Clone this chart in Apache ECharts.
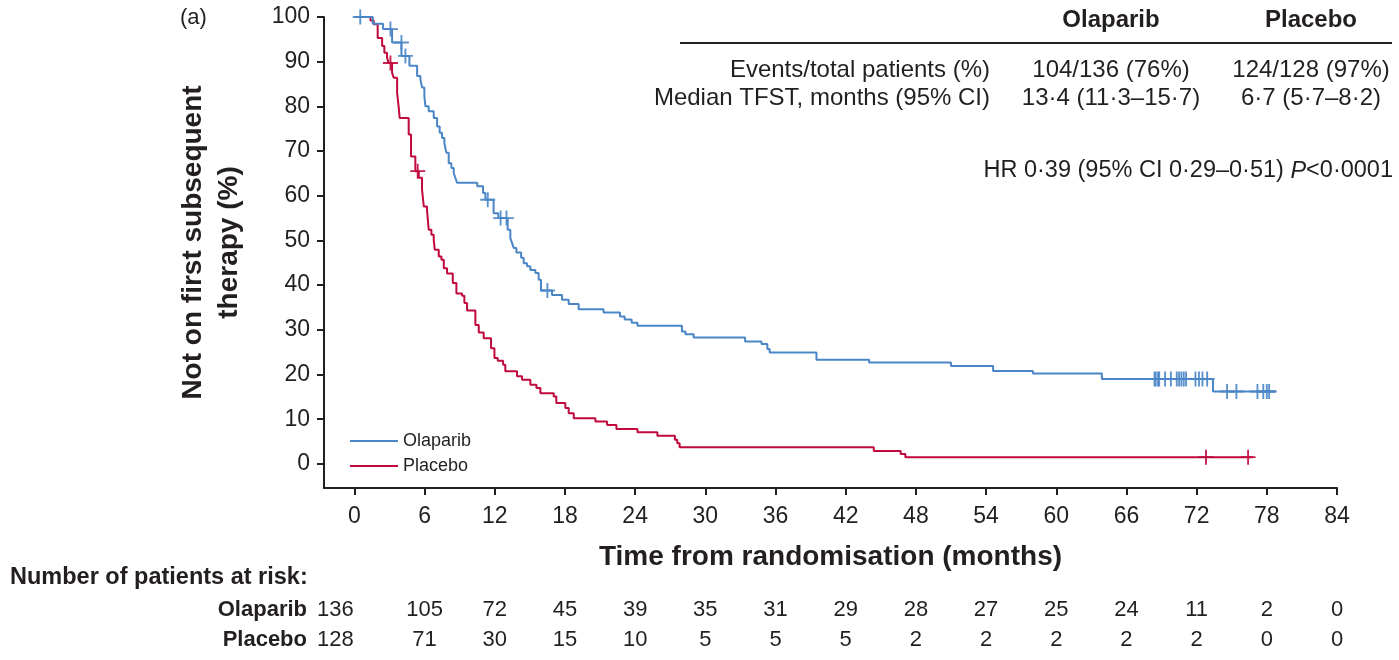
<!DOCTYPE html>
<html>
<head>
<meta charset="utf-8">
<title>Time to first subsequent therapy</title>
<script src="https://cdn.jsdelivr.net/npm/echarts@6/dist/echarts.min.js"></script>
<style>
  html, body { margin: 0; padding: 0; background: #ffffff; }
  #chart { width: 1399px; height: 660px; }
</style>
</head>
<body>
<div id="chart"></div>
<script>
// Kaplan–Meier estimates: [month, % not on first subsequent therapy] at each event
const olaparibCurve = [
  [0, 100], [1.57, 98.5], [2.45, 97.3], [3.22, 94.3], [4.02, 91.3], [4.70, 89.1],
  [5.36, 86.8], [5.64, 86.1], [5.78, 84.2], [5.98, 82.3], [6.07, 80.0], [6.35, 78.9],
  [6.78, 77.4], [7.07, 75.5], [7.29, 74.1], [7.49, 72.9], [7.69, 71.8], [7.86, 69.6],
  [8.06, 67.3], [8.29, 66.2], [8.49, 65.1], [8.63, 64.0], [8.78, 62.9], [10.5, 62.1],
  [11.0, 60.6], [11.2, 59.1], [11.9, 56.1], [12.3, 55.0], [13.1, 52.4], [13.33, 50.5],
  [13.48, 49.4], [13.62, 48.3], [13.85, 47.3], [14.25, 46.1], [14.47, 44.9], [14.76, 44.2],
  [15.04, 43.4], [15.47, 42.7], [15.75, 41.2], [15.95, 38.8], [16.89, 37.8], [17.75, 36.7],
  [18.32, 35.8], [19.17, 34.6], [21.3, 33.9], [22.7, 33.0], [23.1, 32.3], [23.7, 31.6],
  [24.2, 30.9], [28.0, 29.6], [28.3, 29.0], [29.0, 28.3], [33.4, 27.4], [34.8, 26.8],
  [35.3, 25.7], [35.5, 24.9], [39.5, 23.3], [44.0, 22.7], [51.0, 21.9], [54.6, 20.8],
  [58.0, 20.2], [63.9, 19.0], [73.4, 16.2], [78.8, 16.2]
];
const placeboCurve = [
  [0, 100], [1.37, 99.2], [1.65, 98.4], [1.99, 95.3], [2.37, 93.5], [2.56, 92.0],
  [2.79, 90.9], [2.93, 89.7], [3.22, 87.5], [3.36, 86.4], [3.65, 83.0], [3.79, 79.7],
  [3.87, 77.4], [4.64, 73.7], [4.84, 68.8], [5.21, 65.5], [5.5, 64.0], [5.78, 61.4],
  [5.93, 57.6], [6.21, 56.7], [6.35, 52.4], [6.58, 51.3], [6.78, 50.2], [6.87, 47.9],
  [7.21, 46.4], [7.44, 45.7], [7.64, 43.8], [7.92, 42.6], [8.41, 40.5], [8.72, 38.1],
  [9.2, 37.6], [9.4, 36.0], [9.63, 34.3], [10.34, 31.1], [10.63, 29.4], [11.05, 28.1],
  [11.68, 25.9], [11.97, 23.7], [12.25, 23.1], [12.71, 22.2], [12.9, 20.7], [13.9, 19.6],
  [14.33, 18.8], [15.04, 17.7], [15.56, 17.0], [15.9, 15.8], [17.04, 15.1], [17.26, 13.6],
  [18.03, 12.5], [18.32, 11.3], [18.75, 10.2], [20.6, 9.5], [21.6, 8.7], [22.4, 7.8],
  [24.2, 7.1], [25.9, 6.3], [27.4, 5.4], [27.6, 4.6], [27.8, 3.7], [44.4, 2.9],
  [46.7, 2.2], [47.1, 1.5], [76.8, 1.5]
];

// Censored observations
const olaparibCensored = [
  [0.5, 100], [3.08, 97.3], [4.02, 94.3], [4.36, 91.3], [11.4, 59.1], [12.5, 55.0],
  [13.0, 55.0], [16.5, 38.8],
  [68.4, 19.0], [68.5, 19.0], [68.7, 19.0], [68.8, 19.0], [69.3, 19.0], [69.8, 19.0],
  [70.3, 19.0], [70.5, 19.0], [70.7, 19.0], [70.9, 19.0], [71.1, 19.0], [71.9, 19.0],
  [72.2, 19.0], [72.5, 19.0], [72.9, 19.0],
  [74.6, 16.2], [75.4, 16.2], [77.2, 16.2], [77.7, 16.2], [78.0, 16.2], [78.2, 16.2]
];
const placeboCensored = [[3.08, 89.7], [5.41, 65.5], [72.8, 1.5], [76.4, 1.5]];

// Axis ticks
const monthTicks = [0, 6, 12, 18, 24, 30, 36, 42, 48, 54, 60, 66, 72, 78, 84];
const percentTicks = [0, 10, 20, 30, 40, 50, 60, 70, 80, 90, 100];

// Number of patients at risk at each month tick
const riskArms = ['Placebo', 'Olaparib'];
const olaparibAtRisk = [136, 105, 72, 45, 39, 35, 31, 29, 28, 27, 25, 24, 11, 2, 0];
const placeboAtRisk = [128, 71, 30, 15, 10, 5, 5, 5, 2, 2, 2, 2, 2, 0, 0];

// Summary table
const summaryHeaders = ['Olaparib', 'Placebo'];
const summaryRows = [
  ['Events/total patients (%)', '104/136 (76%)', '124/128 (97%)'],
  ['Median TFST, months (95% CI)', '13·4 (11·3–15·7)', '6·7 (5·7–8·2)']
];
const hazardText = ['HR 0·39 (95% CI 0·29–0·51) ', 'P', '<0·0001'];

const BLUE = '#4a86c6';
const RED = '#c0093d';
const INK = '#231f20';
const FONT = '"Liberation Sans", Arial, Helvetica, sans-serif';
const PLUS = 'path://M7,0h2v7h7v2h-7v7h-2v-7h-7v-2h7z';
const LEGEND_LINE = 'path://M0,0h48v2h-48z';

const X_MIN = -2.6, X_MAX = 84;
const Y_MIN = -5.4, Y_MAX = 100;

const chart = echarts.init(document.getElementById('chart'));

const colCenters = [1111, 1311];
const summaryGraphics = [];
summaryHeaders.forEach((h, i) => {
  summaryGraphics.push({
    type: 'text', x: colCenters[i], y: 20,
    style: { text: h, font: 'bold 24px ' + FONT, fill: INK, align: 'center', verticalAlign: 'middle' }
  });
});
summaryGraphics.push({
  type: 'line', shape: { x1: 680, y1: 43, x2: 1392, y2: 43 },
  style: { stroke: INK, lineWidth: 2 }
});
summaryRows.forEach((row, r) => {
  const y = 70 + r * 28;
  summaryGraphics.push({
    type: 'text', x: 990, y: y,
    style: { text: row[0], font: '24px ' + FONT, fill: INK, align: 'right', verticalAlign: 'middle' }
  });
  for (let c = 0; c < 2; c++) {
    summaryGraphics.push({
      type: 'text', x: colCenters[c], y: y,
      style: { text: row[c + 1], font: '24px ' + FONT, fill: INK, align: 'center', verticalAlign: 'middle' }
    });
  }
});
summaryGraphics.push({
  type: 'text', x: 1393, y: 171,
  style: {
    text: '{n|' + hazardText[0] + '}{i|' + hazardText[1] + '}{n|' + hazardText[2] + '}',
    align: 'right', verticalAlign: 'middle',
    rich: {
      n: { font: '23.5px ' + FONT, fill: INK },
      i: { font: 'italic 23.5px ' + FONT, fill: INK }
    }
  }
});

// At-risk counts sit in their own grid, on the same time scale as the curves;
// the baseline column is nudged left toward the row names.
function riskData(arm, counts) {
  return monthTicks.map((t, i) => ({
    value: [t, arm, counts[i]],
    label: i === 0 ? { offset: [-19, 0] } : undefined
  }));
}
const riskLabel = {
  show: true, position: 'inside', color: INK, opacity: 1, fontSize: 22, fontFamily: FONT,
  textBorderWidth: 0, formatter: p => String(p.value[2])
};

chart.setOption({
  animation: false,
  backgroundColor: '#ffffff',
  textStyle: { fontFamily: FONT, color: INK },
  grid: [
    { left: 324, right: 62, top: 17, bottom: 172 },
    { left: 324, right: 62, top: 595, height: 60 }
  ],
  legend: {
    data: [
      { name: 'Olaparib', icon: LEGEND_LINE },
      { name: 'Placebo', icon: LEGEND_LINE }
    ],
    orient: 'vertical', left: 345, top: 427,
    itemWidth: 48, itemHeight: 18, itemGap: 7, symbolKeepAspect: true,
    textStyle: { fontSize: 18, color: INK, fontFamily: FONT },
    selectedMode: false
  },
  xAxis: [
    {
      type: 'value', gridIndex: 0, min: X_MIN, max: X_MAX,
      axisLine: { onZero: false, lineStyle: { color: INK, width: 2 } },
      axisTick: { show: true, customValues: monthTicks, length: 7, lineStyle: { color: INK, width: 2 } },
      axisLabel: { customValues: monthTicks, fontSize: 23, color: INK, margin: 17, fontFamily: FONT },
      splitLine: { show: false },
      name: 'Time from randomisation (months)', nameLocation: 'middle', nameGap: 55,
      nameTextStyle: { fontSize: 28, fontWeight: 'bold', color: INK, fontFamily: FONT }
    },
    {
      type: 'value', gridIndex: 1, min: X_MIN, max: X_MAX, show: false
    }
  ],
  yAxis: [
    {
      type: 'value', gridIndex: 0, min: Y_MIN, max: Y_MAX,
      axisLine: { show: true, onZero: false, lineStyle: { color: INK, width: 2 } },
      axisTick: { show: true, customValues: percentTicks, length: 7, lineStyle: { color: INK, width: 2 } },
      axisLabel: { customValues: percentTicks, fontSize: 23, color: INK, margin: 14, fontFamily: FONT },
      splitLine: { show: false },
      name: 'Not on first subsequent\ntherapy (%)', nameLocation: 'middle', nameRotate: 90, nameGap: 77,
      nameTextStyle: {
        fontSize: 28, fontWeight: 'bold', color: INK, lineHeight: 36, fontFamily: FONT, align: 'center',
        padding: [0, 0, 0, 20]
      }
    },
    {
      type: 'category', gridIndex: 1, data: riskArms,
      axisLine: { show: false }, axisTick: { show: false }, splitLine: { show: false },
      axisLabel: { fontSize: 22, fontWeight: 'bold', color: INK, margin: 17, fontFamily: FONT }
    }
  ],
  graphic: [
    {
      type: 'text', x: 180, y: 18,
      style: { text: '(a)', font: '22px ' + FONT, fill: INK, verticalAlign: 'middle' }
    },
    {
      type: 'text', x: 10, y: 578,
      style: { text: 'Number of patients at risk:', font: 'bold 23.5px ' + FONT, fill: INK, verticalAlign: 'middle' }
    }
  ].concat(summaryGraphics),
  series: [
    {
      name: 'Olaparib', type: 'line', step: 'end', xAxisIndex: 0, yAxisIndex: 0,
      data: olaparibCurve, symbol: 'none', showSymbol: false,
      lineStyle: { color: BLUE, width: 2 }, itemStyle: { color: BLUE }, z: 3
    },
    {
      name: 'Placebo', type: 'line', step: 'end', xAxisIndex: 0, yAxisIndex: 0,
      data: placeboCurve, symbol: 'none', showSymbol: false,
      lineStyle: { color: RED, width: 2 }, itemStyle: { color: RED }, z: 2
    },
    {
      name: 'Olaparib censored', type: 'scatter', xAxisIndex: 0, yAxisIndex: 0,
      data: olaparibCensored, symbol: PLUS, symbolSize: 15,
      itemStyle: { color: BLUE, opacity: 0.9 }, z: 4
    },
    {
      name: 'Placebo censored', type: 'scatter', xAxisIndex: 0, yAxisIndex: 0,
      data: placeboCensored, symbol: PLUS, symbolSize: 15,
      itemStyle: { color: RED, opacity: 0.9 }, z: 4
    },
    {
      name: 'Olaparib at risk', type: 'scatter', xAxisIndex: 1, yAxisIndex: 1,
      data: riskData('Olaparib', olaparibAtRisk),
      symbolSize: 0, itemStyle: { color: INK, opacity: 1 }, label: riskLabel, silent: true
    },
    {
      name: 'Placebo at risk', type: 'scatter', xAxisIndex: 1, yAxisIndex: 1,
      data: riskData('Placebo', placeboAtRisk),
      symbolSize: 0, itemStyle: { color: INK, opacity: 1 }, label: riskLabel, silent: true
    }
  ]
});
</script>
</body>
</html>
